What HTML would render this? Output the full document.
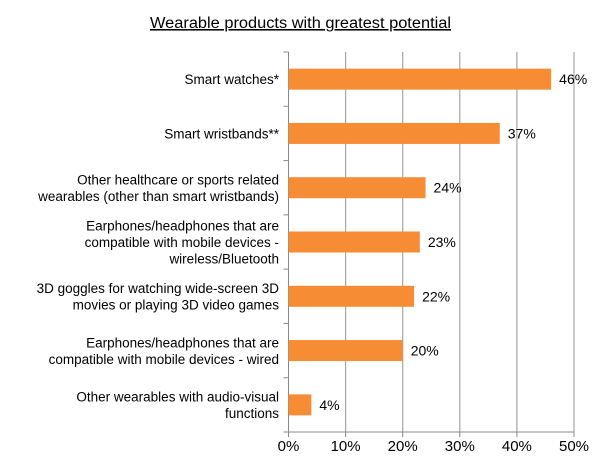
<!DOCTYPE html>
<html><head><meta charset="utf-8"><style>
body{margin:0;background:#fff;font-family:"Liberation Sans",Arial,sans-serif;}
svg text{font-family:"Liberation Sans",Arial,sans-serif;fill:#000;}
</style></head><body>
<svg id="chart" width="600" height="468" viewBox="0 0 600 468" xmlns="http://www.w3.org/2000/svg">
<text x="150" y="28" font-size="15.5" textLength="301" lengthAdjust="spacingAndGlyphs" text-decoration="underline">Wearable products with greatest potential</text>
<g id="grid"></g><g id="bars"></g><g id="labels"></g>
</svg>
<script>
const categories = [
 ["Smart watches*"],
 ["Smart wristbands**"],
 ["Other healthcare or sports related","wearables (other than smart wristbands)"],
 ["Earphones/headphones that are","compatible with mobile devices -","wireless/Bluetooth"],
 ["3D goggles for watching wide-screen 3D","movies or playing 3D video games"],
 ["Earphones/headphones that are","compatible with mobile devices - wired"],
 ["Other wearables with audio-visual","functions"]
];
const values = [46, 37, 24, 23, 22, 20, 4];
const ticks = [0, 10, 20, 30, 40, 50];
const NS="http://www.w3.org/2000/svg";
const x0=288.5, x1=574, yTop=52, yBot=432, maxV=50;
const xs=v=>x0+(x1-x0)*v/maxV;
const band=(yBot-yTop)/values.length;
const yc=i=>yTop+band*(i+0.5);
function mk(tag,attrs,parent){const e=document.createElementNS(NS,tag);for(const k in attrs)e.setAttribute(k,attrs[k]);parent.appendChild(e);return e;}
const grid=document.getElementById('grid'),bars=document.getElementById('bars'),labels=document.getElementById('labels');
ticks.forEach(t=>{
 if(t>0){const g=mk('line',{x1:xs(t),x2:xs(t),y1:yTop,y2:yBot,stroke:'#a6a6a6','stroke-width':1.2},grid);
 
 }
 const tm=mk('line',{x1:xs(t),x2:xs(t),y1:yBot,y2:yBot+5,stroke:'#888'},grid);
 
 
 const tl=mk('text',{x:xs(t),y:yBot+19,'font-size':15,'text-anchor':'middle'},labels);
 tl.textContent=t+'%';
 
 
});
const ax=mk('line',{x1:x0,x2:x0,y1:yTop,y2:yBot,stroke:'#888'},grid);


const bx=mk('line',{x1:x0,x2:x1,y1:yBot,y2:yBot,stroke:'#888'},grid);


for(let i=0;i<=values.length;i++){
 const tk=mk('line',{x1:x0-5,x2:x0,y1:yTop+band*i,y2:yTop+band*i,stroke:'#888'},grid);
 
 
}
values.forEach((v,i)=>{
 const r=mk('rect',{x:x0,y:yc(i)-10.5,width:xs(v)-x0,height:21,fill:'#f68c33'},bars);
 
 
 const vl=mk('text',{x:xs(v)+8,y:yc(i)+5,'font-size':14},labels);
 vl.textContent=v+'%';
 
 
 const lines=categories[i];
 const lh=16.5, start=yc(i)+5-(lines.length-1)*lh/2;
 lines.forEach((ln,j)=>{
  const c=mk('text',{x:279,y:start+j*lh,'font-size':13.5,'text-anchor':'end'},labels);
  c.textContent=ln;
  
  
 });
});
</script>
</body></html>
